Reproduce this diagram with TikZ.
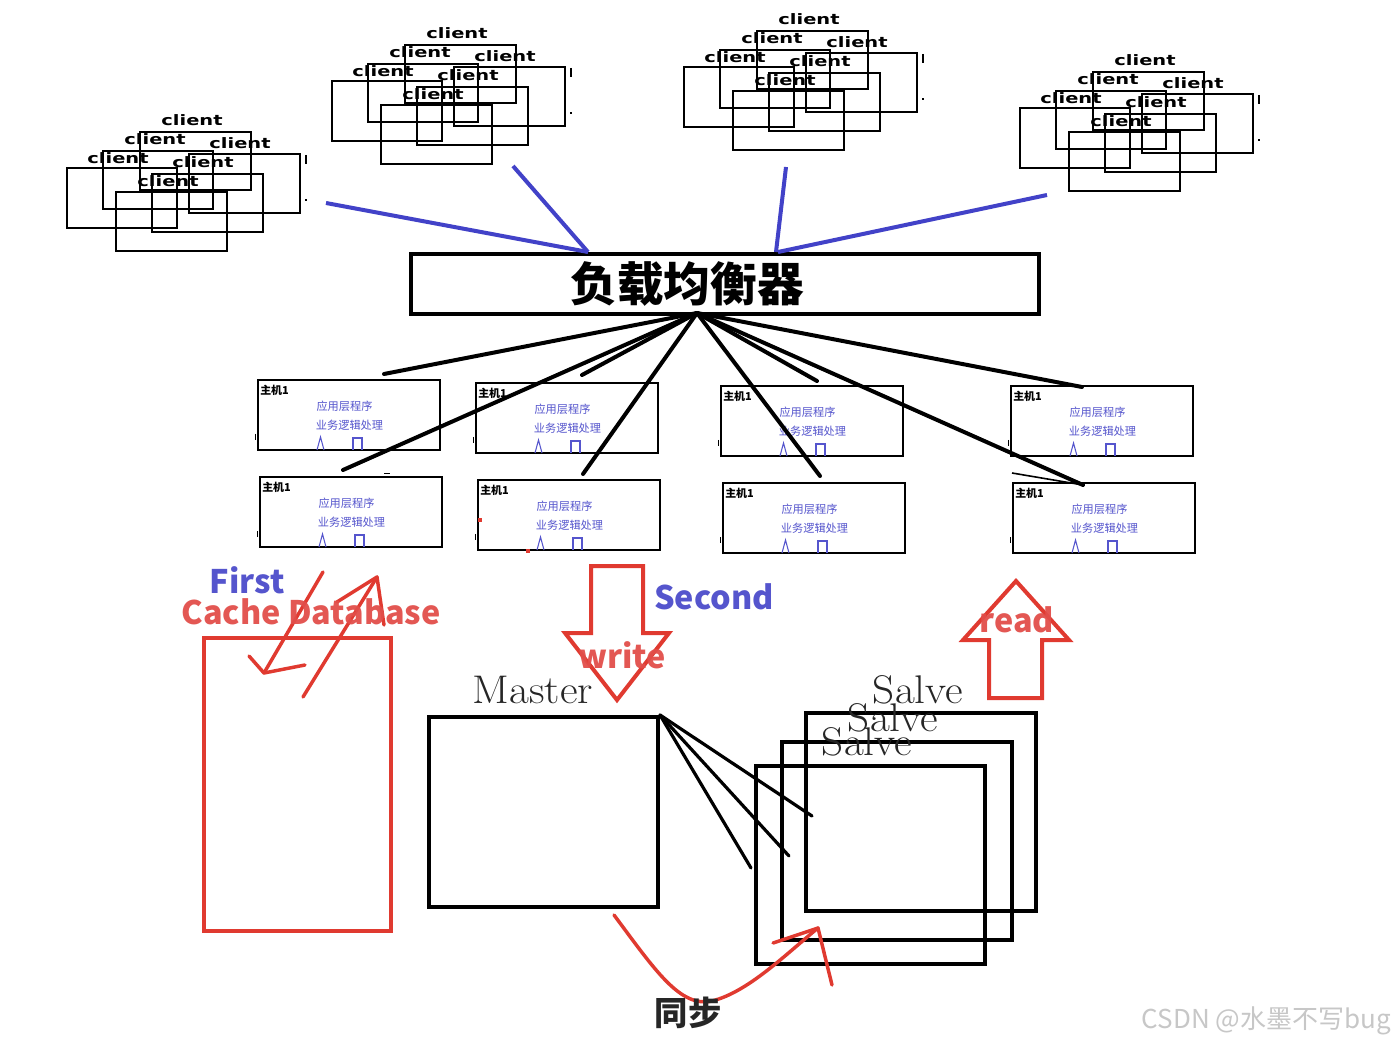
\documentclass[tikz,border=0pt]{standalone}
\usepackage{fontspec}
\usetikzlibrary{calc}
\newfontfamily\cjk{Noto Sans CJK SC}
\newfontfamily\dvs{DejaVu Sans}
\definecolor{lbblue}{RGB}{66,66,200}
\definecolor{txtblue}{RGB}{85,85,205}
\definecolor{myred}{RGB}{224,58,48}
\definecolor{txtred}{RGB}{226,78,74}
\tikzset{
  clientlbl/.style={font=\dvs\bfseries\fontsize{10.8}{11}\selectfont, xscale=1.35, inner sep=0pt},
  hostbox/.style={draw, line width=1.1pt, minimum width=136.5pt, minimum height=52.5pt, inner sep=0pt},
  hosttitle/.style={font=\cjk\bfseries\fontsize{8.2}{9}\selectfont, inner sep=0pt},
  hosttxt/.style={font=\cjk\fontsize{8.4}{9}\selectfont, text=txtblue, inner sep=0pt},
  blueline/.style={lbblue, line width=3pt},
  fanline/.style={black, line width=3pt, line cap=round},
  bigbox/.style={draw, line width=3pt, inner sep=0pt},
  redline/.style={myred, line width=2.6pt, line cap=round, line join=round},
  biglbl/.style={font=\cjk\bfseries\fontsize{24.3}{25}\selectfont, inner sep=0pt},
  serlbl/.style={font=\fontsize{30}{30}\selectfont, xscale=1.08, text=black!85, inner sep=0pt},
}
\newcommand\clientcluster[3]{%
\begin{scope}[shift={(#2,#3)}]
  \draw[line width=1.6pt] (140,132) rectangle (251,190);
  \draw[line width=1.8pt] (103,151) rectangle (213,209);
  \draw[line width=0.8pt] (189,154) rectangle (300,213);
  \draw[line width=2.1pt] (67,168) rectangle (177,228);
  \draw[line width=1.3pt] (152,174) rectangle (263,232);
  \draw[line width=2.1pt] (116,192) rectangle (227,251);
  \node[clientlbl] (#1a) at (192,120) {client};
  \node[clientlbl] (#1b) at (155,139) {client};
  \node[clientlbl] (#1c) at (240,143) {client};
  \node[clientlbl] (#1d) at (118,158) {client};
  \node[clientlbl] (#1e) at (203,162) {client};
  \node[clientlbl] (#1f) at (168,181) {client};
  \draw[line width=0.8pt] (306,155) -- (306,164);
  \fill (305,199) rectangle (307,201);
\end{scope}}
\newcommand\hostunit[3]{%
\begin{scope}[shift={(#2,#3)}]
  \node[hostbox] (#1) at (91,35) {};
  \node[hosttitle, anchor=west] (#1t) at (2,10) {主机1};
  \node[hosttxt] (#1a) at (86.5,26) {应用层程序};
  \node[hosttxt] (#1b) at (91.5,45) {业务逻辑处理};
  \draw[txtblue, line width=0.8pt] (59,70) -- (62.5,57) -- (66,70);
  \draw[txtblue, line width=1.3pt] (95,70) -- (95,58) -- (104,58) -- (104,70);
  \draw[line width=0.6pt] (-3,54) -- (-3,60);
\end{scope}}
\begin{document}
\begin{tikzpicture}[x=0.75pt, y=-0.75pt]
\useasboundingbox (0,0) rectangle (1395,1044);
\fill[white] (0,0) rectangle (1395,1044);

% client clusters
\clientcluster{ca}{0}{0}
\clientcluster{cb}{265}{-87}
\clientcluster{cc}{617}{-101}
\clientcluster{cd}{953}{-60}

% load balancer
\node[bigbox, minimum width=471pt, minimum height=45pt] (lb) at (725,284) {};
\node[font=\cjk\bfseries\fontsize{35}{36}\selectfont, inner sep=0pt] (lbt) at (687,284) {负载均衡器};

% blue lines
\coordinate (b1s) at (326,203); \coordinate (b1e) at (588,252);
\coordinate (b2s) at (513,166); \coordinate (b2e) at (588,252);
\coordinate (b3s) at (786,167); \coordinate (b3e) at (776,252);
\coordinate (b4s) at (1047,195); \coordinate (b4e) at (778,252);
\draw[blueline] (b1s) -- (b1e);
\draw[blueline] (b2s) -- (b2e);
\draw[blueline] (b3s) -- (b3e);
\draw[blueline] (b4s) -- (b4e);

% hosts
\hostunit{h1}{258}{380}
\hostunit{h2}{476}{383}
\hostunit{h3}{721}{386}
\hostunit{h4}{1011}{386}
\hostunit{h5}{260}{477}
\hostunit{h6}{478}{480}
\hostunit{h7}{723}{483}
\hostunit{h8}{1013}{483}

% fan lines from load balancer
\coordinate (f0) at (697,313);
\coordinate (f1) at (384,374);
\coordinate (f2) at (343,470);
\coordinate (f2b) at (582,375);
\coordinate (f3) at (583,474);
\coordinate (f4) at (820,476);
\coordinate (f5) at (817,381);
\coordinate (f6) at (1082,387);
\coordinate (f7) at (1083,485);
\foreach \t in {f1,f2,f2b,f3,f4,f5,f6,f7} \draw[fanline] (f0) -- (\t);
\coordinate (f7b) at (1012,473);
\draw[line width=1.2pt] (f7b) -- (f7);
\draw[line width=0.6pt] (384,473) -- (390,473);
\fill[myred] (478,518) rectangle (482,522);
\fill[myred] (526,549) rectangle (530,553);

% cache database
\node[biglbl, text=txtblue] (first) at (247,580) {First};
\node[draw=myred, line width=3pt, minimum width=140pt, minimum height=220pt, inner sep=0pt] (cache) at (297.5,784.5) {};
\draw[redline] (323,572) -- (264,673);
\draw[redline] (249,656) -- (264,673) -- (305,665);
\draw[redline] (303,697) -- (377,577);
\draw[redline] (337,602) -- (377,577) -- (384,625);
\node[biglbl, text=txtred, opacity=0.95] (cachelbl) at (311,612) {Cache Database};

% write arrow
\draw[myred, line width=3pt, line join=miter] (591,566) -- (643,566) -- (643,633) -- (669,633) -- (617,700) -- (565,633) -- (591,633) -- cycle;
\node[biglbl, text=txtblue] (second) at (714,597) {Second};
\node[biglbl, text=txtred, opacity=0.95] (write) at (622,655) {write};

% read arrow
\draw[myred, line width=3pt, line join=miter] (1016,581) -- (1069,640) -- (1042,640) -- (1042,698) -- (989,698) -- (989,640) -- (963,640) -- cycle;
\node[biglbl, text=txtred, opacity=0.95] (read) at (1017,620) {read};

% master / slaves
\node[serlbl] (masterlbl) at (533,690) {Master};
\node[bigbox, minimum width=171.75pt, minimum height=142.5pt] (master) at (543.5,812) {};
\node[bigbox, minimum width=172.5pt, minimum height=148.5pt] (s1) at (921,812) {};
\node[bigbox, minimum width=172.5pt, minimum height=148.5pt] (s2) at (897,841) {};
\node[bigbox, minimum width=171.75pt, minimum height=148.5pt] (s3) at (870.5,865) {};
\node[serlbl] (s1l) at (918,690) {Salve};
\node[serlbl] (s2l) at (893,718) {Salve};
\node[serlbl] (s3l) at (867,742) {Salve};
\coordinate (m1) at (812,816);
\coordinate (m2) at (789,856);
\coordinate (m3) at (751,868);
\draw[fanline, line width=2.4pt] (master.north east) -- (m1);
\draw[fanline, line width=2.4pt] (master.north east) -- (m2);
\draw[fanline, line width=2.4pt] (master.north east) -- (m3);

% sync arrow
\coordinate (sy0) at (614,915);
\coordinate (sy1) at (818,928);
\draw[redline] (sy0) .. controls (655,970) and (680,1008) .. (712,1001) .. controls (748,992) and (785,955) .. (sy1);
\draw[redline] (773,943) -- (sy1) -- (832,985);
\node[font=\cjk\bfseries\fontsize{25}{25}\selectfont, text=black!85, inner sep=0pt] (sync) at (688,1013) {同步};

% watermark
\node[font=\cjk\fontsize{19.5}{20}\selectfont, text=black!22, anchor=east, inner sep=0pt] (wm) at (1391,1021) {CSDN @水墨不写bug};
\end{tikzpicture}
\end{document}
